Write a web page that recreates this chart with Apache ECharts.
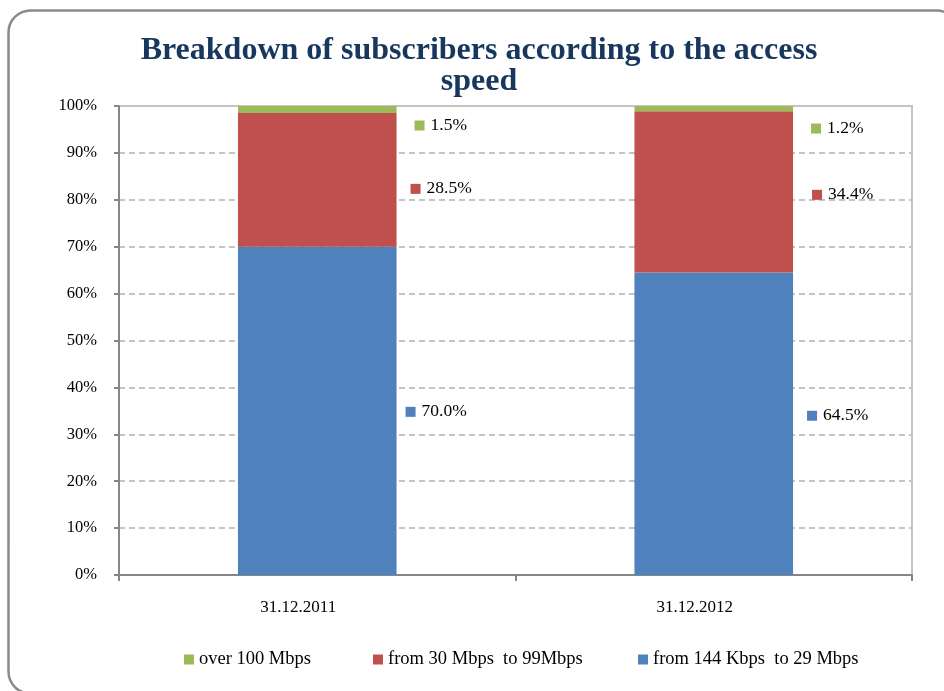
<!DOCTYPE html>
<html>
<head>
<meta charset="utf-8">
<script src="https://cdn.jsdelivr.net/npm/echarts@6/dist/echarts.min.js"></script>
<style>
  html, body { margin: 0; padding: 0; background: #fff; }
  #chart { width: 944px; height: 691px; }
</style>
</head>
<body>
<div id="chart"></div>
<script>
// Subscriber share by access speed, end of year
const categories = ['31.12.2011', '31.12.2012'];
const seriesNames = ['from 144 Kbps  to 29 Mbps', 'from 30 Mbps  to 99Mbps', 'over 100 Mbps'];
const lowSpeed = [70.0, 64.5];
const midSpeed = [28.5, 34.4];
const highSpeed = [1.5, 1.2];
const yTicks = [0, 10, 20, 30, 40, 50, 60, 70, 80, 90, 100];

const colors = ['#4F81BD', '#C0504D', '#9BBB59'];
// per-bar label nudges [dx, dy] for each series
const labelNudge = [
  [[9, 1], [14, -8]],
  [[14, 9], [19, 3]],
  [[18, 16], [18, 20]]
];

const serif = '"Liberation Serif", "Times New Roman", serif';
const values = [lowSpeed, midSpeed, highSpeed];

const series = values.map((vals, si) => ({
  name: seriesNames[si],
  type: 'bar',
  stack: 'total',
  barWidth: '40%',
  itemStyle: { color: colors[si] },
  data: vals.map((v, ci) => ({
    value: v,
    label: { offset: labelNudge[si][ci] }
  })),
  label: {
    show: true,
    position: 'right',
    distance: 0,
    formatter: p => '{m|}{t|' + p.value.toFixed(1) + '%}',
    rich: {
      m: { width: 10, height: 10, backgroundColor: colors[si] },
      t: { fontFamily: serif, fontSize: 17.5, color: '#000', padding: [0, 0, 0, 6] }
    }
  }
}));

const legendLeft = [184, 373, 638];
const legendOrder = [2, 1, 0];
const legends = legendOrder.map((si, i) => ({
  data: [seriesNames[si]],
  left: legendLeft[i],
  top: 650,
  padding: 0,
  itemWidth: 10,
  itemHeight: 10,
  icon: 'rect',
  textStyle: { fontFamily: serif, fontSize: 18.5, color: '#000' }
}));

const chart = echarts.init(document.getElementById('chart'), null, { renderer: 'canvas' });
chart.setOption({
  animation: false,
  backgroundColor: '#fff',
  title: {
    text: 'Breakdown of subscribers according to the access\nspeed',
    left: 474,
    textAlign: 'center',
    top: 30,
    textStyle: {
      fontFamily: serif,
      fontWeight: 'bold',
      fontSize: 32,
      lineHeight: 31,
      color: '#17375E'
    }
  },
  graphic: [{
    type: 'rect',
    shape: { x: 8.5, y: 10.5, width: 950, height: 683, r: 22 },
    style: { fill: null, stroke: '#8A8A8A', lineWidth: 2.5 },
    z: -1
  }],
  legend: legends,
  grid: {
    left: 119, right: 32, top: 106, bottom: 116,
    show: true,
    borderColor: '#C4C4C4',
    borderWidth: 2
  },
  xAxis: {
    type: 'category',
    data: categories,
    axisLine: { lineStyle: { color: '#868686', width: 2 } },
    axisTick: { show: true, length: 6, lineStyle: { color: '#868686', width: 2 } },
    axisLabel: {
      fontFamily: serif, fontSize: 17, color: '#000', margin: 24,
      padding: [0, 38, 0, 0]
    }
  },
  yAxis: {
    type: 'value',
    min: yTicks[0],
    max: yTicks[yTicks.length - 1],
    interval: yTicks[1] - yTicks[0],
    axisLine: { show: true, lineStyle: { color: '#868686', width: 2 } },
    axisTick: { show: true, length: 5, lineStyle: { color: '#868686', width: 2 } },
    axisLabel: {
      fontFamily: serif, fontSize: 16.5, color: '#000', margin: 22,
      formatter: v => v + '%'
    },
    splitLine: { lineStyle: { color: '#C4C4C4', width: 2, type: [6, 4] } }
  },
  series: series
});
</script>
</body>
</html>
